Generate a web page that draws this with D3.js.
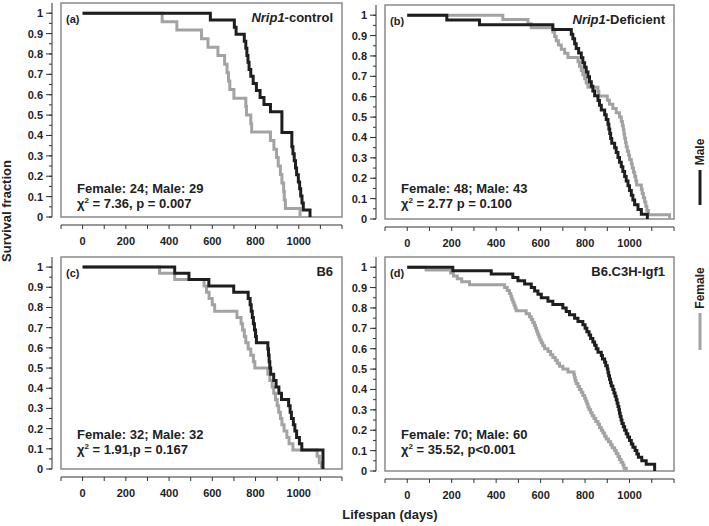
<!DOCTYPE html>
<html>
<head>
<meta charset="utf-8">
<script src="https://cdn.jsdelivr.net/npm/d3@7"></script>
<style>
  html, body { margin: 0; padding: 0; background: #fff; }
  svg { display: block; font-family: "Liberation Sans", Arial, sans-serif; font-weight: bold; }
</style>
</head>
<body>
<svg id="chart" width="709" height="526"></svg>
<script>
// Kaplan-Meier step points: [day, survival after the drop]
const maleA = [[591,0.966],[702,0.931],[710,0.897],[748,0.862],[755,0.828],[760,0.793],[765,0.759],[770,0.724],[778,0.690],[789,0.655],[804,0.621],[821,0.586],[839,0.552],[869,0.517],[922,0.414],[968,0.345],[973,0.310],[979,0.276],[985,0.241],[990,0.207],[998,0.172],[1004,0.138],[1009,0.103],[1015,0.069],[1021,0.034],[1052,0]];
const femaleA = [[368,0.958],[436,0.917],[550,0.875],[580,0.833],[626,0.792],[657,0.750],[668,0.708],[675,0.667],[681,0.625],[700,0.583],[755,0.542],[758,0.500],[778,0.458],[782,0.417],[869,0.375],[885,0.333],[897,0.292],[905,0.250],[915,0.208],[922,0.167],[930,0.125],[933,0.083],[938,0.042],[1006,0]];

const maleB = [[178,0.977],[325,0.953],[655,0.930],[738,0.907],[745,0.884],[753,0.860],[760,0.837],[771,0.814],[783,0.791],[790,0.767],[798,0.744],[805,0.721],[813,0.698],[820,0.674],[828,0.651],[835,0.628],[843,0.605],[858,0.581],[865,0.558],[873,0.535],[888,0.512],[895,0.488],[903,0.465],[907,0.442],[911,0.419],[915,0.395],[920,0.372],[933,0.349],[940,0.326],[948,0.302],[955,0.279],[963,0.256],[970,0.233],[978,0.209],[985,0.186],[993,0.163],[1000,0.140],[1008,0.116],[1015,0.093],[1023,0.070],[1038,0.047],[1053,0.023],[1080,0]];
const femaleB = [[430,0.979],[543,0.958],[558,0.938],[655,0.917],[663,0.896],[670,0.875],[680,0.854],[693,0.833],[708,0.813],[723,0.792],[768,0.771],[775,0.750],[783,0.729],[790,0.708],[798,0.688],[805,0.667],[813,0.646],[858,0.625],[862,0.604],[900,0.583],[910,0.563],[925,0.542],[940,0.521],[955,0.500],[963,0.479],[968,0.458],[972,0.438],[975,0.417],[978,0.396],[982,0.375],[985,0.354],[990,0.333],[996,0.313],[1000,0.292],[1008,0.271],[1012,0.250],[1018,0.229],[1023,0.208],[1028,0.188],[1032,0.167],[1053,0.146],[1057,0.125],[1062,0.104],[1068,0.083],[1073,0.063],[1078,0.042],[1085,0.021],[1180,0]];

const maleC = [[426,0.969],[492,0.938],[584,0.906],[699,0.875],[766,0.844],[775,0.813],[780,0.781],[785,0.750],[790,0.719],[795,0.688],[800,0.656],[804,0.625],[857,0.594],[860,0.563],[863,0.531],[866,0.500],[870,0.469],[884,0.438],[895,0.406],[908,0.375],[920,0.344],[953,0.313],[960,0.281],[966,0.250],[975,0.219],[982,0.188],[990,0.156],[1003,0.125],[1014,0.094],[1112,0]];
const femaleC = [[356,0.969],[426,0.938],[562,0.906],[573,0.875],[585,0.844],[600,0.813],[611,0.781],[714,0.750],[733,0.719],[740,0.688],[748,0.656],[755,0.625],[766,0.594],[778,0.563],[790,0.531],[797,0.500],[857,0.469],[866,0.438],[877,0.406],[884,0.375],[892,0.344],[900,0.313],[907,0.281],[915,0.250],[922,0.219],[932,0.188],[945,0.156],[955,0.125],[973,0.094],[1085,0.063],[1095,0.031],[1105,0]];

const maleD = [[205,0.983],[378,0.967],[475,0.950],[498,0.933],[528,0.917],[558,0.900],[573,0.883],[588,0.867],[603,0.850],[633,0.833],[655,0.817],[700,0.800],[715,0.783],[730,0.767],[753,0.750],[768,0.733],[790,0.717],[800,0.700],[808,0.683],[818,0.667],[825,0.650],[835,0.633],[843,0.617],[850,0.600],[858,0.583],[873,0.567],[878,0.550],[888,0.533],[893,0.517],[900,0.500],[903,0.483],[906,0.467],[910,0.450],[914,0.433],[918,0.417],[925,0.400],[930,0.383],[935,0.367],[940,0.350],[944,0.333],[948,0.317],[952,0.300],[955,0.283],[958,0.267],[962,0.250],[966,0.233],[972,0.217],[978,0.200],[985,0.183],[992,0.167],[1000,0.150],[1008,0.133],[1015,0.117],[1025,0.100],[1033,0.083],[1040,0.067],[1055,0.050],[1075,0.033],[1113,0]];
const femaleD = [[85,0.986],[195,0.971],[208,0.957],[225,0.943],[245,0.929],[280,0.914],[438,0.900],[450,0.886],[460,0.871],[466,0.857],[470,0.843],[475,0.829],[480,0.814],[485,0.800],[490,0.786],[535,0.771],[550,0.757],[558,0.743],[565,0.729],[572,0.714],[577,0.700],[582,0.686],[587,0.671],[592,0.657],[597,0.643],[603,0.629],[610,0.614],[618,0.600],[633,0.586],[645,0.571],[655,0.557],[666,0.543],[675,0.529],[685,0.514],[700,0.500],[723,0.486],[750,0.471],[753,0.457],[756,0.443],[760,0.429],[768,0.414],[775,0.400],[783,0.386],[790,0.371],[798,0.357],[803,0.343],[808,0.329],[813,0.314],[818,0.300],[825,0.286],[832,0.271],[840,0.257],[848,0.243],[858,0.229],[865,0.214],[873,0.200],[880,0.186],[888,0.171],[895,0.157],[905,0.143],[915,0.129],[922,0.114],[933,0.100],[940,0.086],[948,0.071],[955,0.057],[962,0.043],[970,0.029],[975,0.014],[985,0]];

// Tick values
const xTickLabels = [0, 200, 400, 600, 800, 1000];
const xTickMarks = d3.range(-100, 1201, 100);
const yTickLabels = d3.range(0, 11).map(i => i / 10);
const yMinorTicks = d3.range(0, 21).map(i => i / 20);

const panels = [
  { tag: "(a)", italic: "Nrip1", title: "-control", male: maleA, female: femaleA,
    counts: "Female: 24; Male: 29", stat: " = 7.36, p = 0.007",
    x0: 61, x1: 342, y0: 3, y1: 217, textY: [193, 208] },
  { tag: "(b)", italic: "Nrip1", title: "-Deficient", male: maleB, female: femaleB,
    counts: "Female: 48; Male: 43", stat: " = 2.77 p = 0.100",
    x0: 385, x1: 674, y0: 5, y1: 219, textY: [193, 208] },
  { tag: "(c)", italic: "", title: "B6", male: maleC, female: femaleC,
    counts: "Female: 32; Male: 32", stat: " = 1.91,p = 0.167",
    x0: 61, x1: 342, y0: 257, y1: 469, textY: [439, 454] },
  { tag: "(d)", italic: "", title: "B6.C3H-Igf1", male: maleD, female: femaleD,
    counts: "Female: 70; Male: 60", stat: " = 35.52, p<0.001",
    x0: 385, x1: 674, y0: 257, y1: 471, textY: [439, 454] }
];

const svg = d3.select("#chart");
const ink = "#1e1e1e";
const grey = "#a3a3a3";

panels.forEach(p => {
  const x = d3.scaleLinear().domain([-100, 1200]).range([p.x0, p.x1]);
  const y = d3.scaleLinear().domain([0, 1.05]).range([p.y1, p.y0]);
  const g = svg.append("g");

  // y axis, detached to the left of the box
  const yAxisX = p.x0 - 9;
  g.append("line")
    .attr("x1", yAxisX).attr("x2", yAxisX)
    .attr("y1", p.y0).attr("y2", y(0))
    .attr("stroke", "#333").attr("stroke-width", 1);
  g.selectAll(".ymin").data(yMinorTicks).enter().append("line")
    .attr("x1", yAxisX - 3).attr("x2", yAxisX)
    .attr("y1", d => y(d)).attr("y2", d => y(d))
    .attr("stroke", "#333");
  g.selectAll(".ymaj").data(yTickLabels).enter().append("line")
    .attr("x1", yAxisX - 6).attr("x2", yAxisX)
    .attr("y1", d => y(d)).attr("y2", d => y(d))
    .attr("stroke", "#333");
  g.selectAll(".ylab").data(yTickLabels).enter().append("text")
    .attr("x", yAxisX - 9).attr("y", d => y(d) + 4)
    .attr("text-anchor", "end").attr("font-size", 11).attr("fill", "#222")
    .text(d => d === 0 || d === 1 ? d : d.toFixed(1));

  // x axis, detached below the box
  const xAxisY = p.y1 + 8;
  g.append("line")
    .attr("x1", p.x0).attr("x2", p.x1)
    .attr("y1", xAxisY).attr("y2", xAxisY)
    .attr("stroke", "#333");
  g.selectAll(".xt").data(xTickMarks).enter().append("line")
    .attr("x1", d => x(d)).attr("x2", d => x(d))
    .attr("y1", xAxisY).attr("y2", xAxisY + 4)
    .attr("stroke", "#333");
  g.selectAll(".xlab").data(xTickLabels).enter().append("text")
    .attr("x", d => x(d)).attr("y", xAxisY + 20)
    .attr("text-anchor", "middle").attr("font-size", 11).attr("fill", "#222")
    .text(d => d);

  // plot box
  g.append("rect")
    .attr("x", p.x0).attr("y", p.y0)
    .attr("width", p.x1 - p.x0).attr("height", p.y1 - p.y0)
    .attr("fill", "none").attr("stroke", "#8a8a8a").attr("stroke-width", 1.5);

  const step = d3.line()
    .x(d => x(d[0])).y(d => y(d[1]))
    .curve(d3.curveStepAfter);

  g.append("path").datum([[0, 1]].concat(p.female))
    .attr("d", step).attr("fill", "none")
    .attr("stroke", grey).attr("stroke-width", 3);
  g.append("path").datum([[0, 1]].concat(p.male))
    .attr("d", step).attr("fill", "none")
    .attr("stroke", ink).attr("stroke-width", 3);

  // labels inside the box
  g.append("text")
    .attr("x", p.x0 + 5).attr("y", p.y0 + 20)
    .attr("font-size", 11).attr("fill", "#222")
    .text(p.tag);

  const t = g.append("text")
    .attr("x", p.x1 - 9).attr("y", p.y0 + 19)
    .attr("text-anchor", "end").attr("font-size", 13).attr("fill", "#222");
  if (p.italic) t.append("tspan").attr("font-style", "italic").text(p.italic);
  t.append("tspan").text(p.title);

  g.append("text")
    .attr("x", p.x0 + 16).attr("y", p.textY[0])
    .attr("font-size", 13).attr("fill", "#222")
    .text(p.counts);
  const s = g.append("text")
    .attr("x", p.x0 + 16).attr("y", p.textY[1])
    .attr("font-size", 13).attr("fill", "#222");
  s.append("tspan").text("χ");
  s.append("tspan").attr("font-size", 8).attr("dy", -5).text("2");
  s.append("tspan").attr("dy", 5).text(p.stat);
});

// axis titles
svg.append("text")
  .attr("transform", "translate(11,211) rotate(-90)")
  .attr("text-anchor", "middle").attr("font-size", 13).attr("fill", "#222")
  .text("Survival fraction");

svg.append("text")
  .attr("x", 390).attr("y", 519)
  .attr("text-anchor", "middle").attr("font-size", 13).attr("fill", "#222")
  .text("Lifespan (days)");

// legend, written vertically at the right edge
const legend = [
  { name: "Male", colour: ink, mid: 152, lineTop: 170, lineBottom: 205 },
  { name: "Female", colour: grey, mid: 288, lineTop: 313, lineBottom: 350 }
];
legend.forEach(l => {
  svg.append("text")
    .attr("transform", `translate(704,${l.mid}) rotate(-90)`)
    .attr("text-anchor", "middle").attr("font-size", 12).attr("fill", "#222")
    .text(l.name);
  svg.append("line")
    .attr("x1", 700).attr("x2", 700)
    .attr("y1", l.lineTop).attr("y2", l.lineBottom)
    .attr("stroke", l.colour).attr("stroke-width", 3);
});
</script>
</body>
</html>
